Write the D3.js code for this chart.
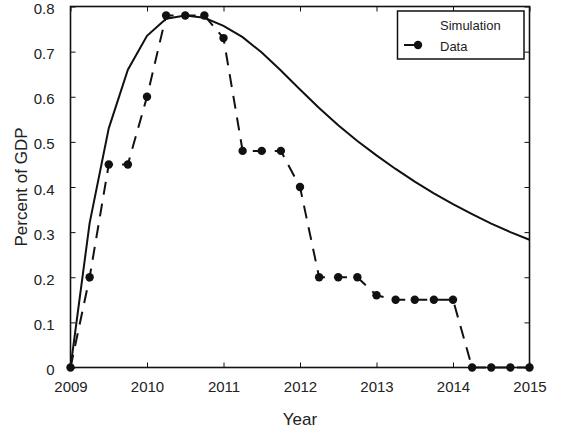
<!DOCTYPE html>
<html>
<head>
<meta charset="utf-8">
<script src="https://cdn.jsdelivr.net/npm/d3@7"></script>
<style>
  body { margin: 0; background: #fff; }
  svg { display: block; font-family: "Liberation Sans", Arial, sans-serif; }
  .tick-label { font-size: 15px; fill: #222; }
  .axis-label { font-size: 17px; fill: #222; }
  .legend-text { font-size: 13px; fill: #222; }
</style>
</head>
<body>
<div id="chart"></div>
<script>
const quarters = [
  2009, 2009.25, 2009.5, 2009.75,
  2010, 2010.25, 2010.5, 2010.75,
  2011, 2011.25, 2011.5, 2011.75,
  2012, 2012.25, 2012.5, 2012.75,
  2013, 2013.25, 2013.5, 2013.75,
  2014, 2014.25, 2014.5, 2014.75,
  2015,
];
const simulation = [
  0, 0.32, 0.53, 0.66,
  0.735, 0.773, 0.78, 0.775,
  0.757, 0.732, 0.698, 0.658,
  0.616, 0.575, 0.537, 0.502,
  0.47, 0.44, 0.412, 0.386,
  0.362, 0.34, 0.319, 0.3,
  0.283,
];
const observed = [
  0, 0.2, 0.45, 0.45,
  0.6, 0.78, 0.78, 0.78,
  0.73, 0.48, 0.48, 0.48,
  0.4, 0.2, 0.2, 0.2,
  0.16, 0.15, 0.15, 0.15,
  0.15, 0, 0, 0,
  0,
];
const xTicks = [2009, 2010, 2011, 2012, 2013, 2014, 2015];
const yTicks = [0, 0.1, 0.2, 0.3, 0.4, 0.5, 0.6, 0.7, 0.8];
const legendItems = ["Simulation", "Data"];

const margin = { top: 6.5, right: 32.5, bottom: 64.5, left: 70.5 };
const W = 562, H = 432;
const width = W - margin.left - margin.right;
const height = H - margin.top - margin.bottom;

const xScale = d3.scaleLinear().domain([2009, 2015]).range([0, width]);
const yScale = d3.scaleLinear().domain([0, 0.8]).range([height, 0]);

const svg = d3
  .select("#chart")
  .append("svg")
  .attr("width", W)
  .attr("height", H)
  .append("g")
  .attr("transform", "translate(" + margin.left + "," + margin.top + ")");

const tickLen = 5;

// bottom and top ticks, labels only at the bottom
const xAxis = svg
  .append("g")
  .attr("transform", "translate(0," + height + ")")
  .call(d3.axisBottom(xScale).tickValues(xTicks).tickFormat(d3.format("d")).tickSizeInner(-tickLen).tickSizeOuter(0).tickPadding(14));
xAxis.select(".domain").remove();
xAxis.selectAll("line").attr("stroke", "#111").attr("stroke-width", 1);
xAxis.selectAll("text").attr("class", "tick-label").attr("font-size", null).attr("font-family", null);

const xTop = svg
  .append("g")
  .call(d3.axisTop(xScale).tickValues(xTicks).tickSizeInner(-tickLen).tickSizeOuter(0).tickFormat(""));
xTop.select(".domain").remove();
xTop.selectAll("line").attr("stroke", "#111").attr("stroke-width", 1);

const yAxis = svg
  .append("g")
  .call(d3.axisLeft(yScale).tickValues(yTicks).tickFormat((d) => (d === 0 ? "0" : d3.format(".1f")(d))).tickSizeInner(-tickLen).tickSizeOuter(0).tickPadding(16));
yAxis.select(".domain").remove();
yAxis.selectAll("line").attr("stroke", "#111").attr("stroke-width", 1);
yAxis.selectAll("text").attr("class", "tick-label").attr("font-size", null).attr("font-family", null).attr("dy", "0.47em");

const yRight = svg
  .append("g")
  .attr("transform", "translate(" + width + ",0)")
  .call(d3.axisRight(yScale).tickValues(yTicks).tickSizeInner(-tickLen).tickSizeOuter(0).tickFormat(""));
yRight.select(".domain").remove();
yRight.selectAll("line").attr("stroke", "#111").attr("stroke-width", 1);

// frame
svg
  .append("rect")
  .attr("width", width)
  .attr("height", height)
  .attr("fill", "none")
  .attr("stroke", "#111")
  .attr("stroke-width", 1.6);

// axis titles
svg
  .append("text")
  .attr("class", "axis-label")
  .attr("x", width / 2)
  .attr("y", height + 57)
  .attr("text-anchor", "middle")
  .text("Year");
svg
  .append("text")
  .attr("class", "axis-label")
  .attr("transform", "translate(-44," + height / 2 + ") rotate(-90)")
  .attr("text-anchor", "middle")
  .text("Percent of GDP");

// simulation curve
const quarterLine = d3
  .line()
  .x((d, i) => xScale(quarters[i]))
  .y((d) => yScale(d));
svg
  .append("path")
  .datum(simulation)
  .attr("d", quarterLine)
  .attr("fill", "none")
  .attr("stroke", "#111")
  .attr("stroke-width", 2);

// observed data, dashed with markers
svg
  .append("path")
  .datum(observed)
  .attr("d", quarterLine)
  .attr("fill", "none")
  .attr("stroke", "#111")
  .attr("stroke-width", 2)
  .attr("stroke-dasharray", "13,9");
svg
  .append("g")
  .selectAll("circle")
  .data(observed)
  .enter()
  .append("circle")
  .attr("cx", (d, i) => xScale(quarters[i]))
  .attr("cy", (d) => yScale(d))
  .attr("r", 4.2)
  .attr("fill", "#111");

// legend
const legend = svg.append("g").attr("transform", "translate(" + (397.5 - margin.left) + "," + (11 - margin.top) + ")");
legend
  .append("rect")
  .attr("width", 126.5)
  .attr("height", 48)
  .attr("fill", "#fff")
  .attr("stroke", "#111")
  .attr("stroke-width", 1.5);
legend
  .selectAll("text")
  .data(legendItems)
  .enter()
  .append("text")
  .attr("class", "legend-text")
  .attr("x", 42.5)
  .attr("y", (d, i) => 18.5 + i * 21)
  .text((d) => d);
legend
  .append("line")
  .attr("x1", 6.5)
  .attr("x2", 20.5)
  .attr("y1", 34)
  .attr("y2", 34)
  .attr("stroke", "#111")
  .attr("stroke-width", 2);
legend
  .append("circle")
  .attr("cx", 20.5)
  .attr("cy", 34)
  .attr("r", 4.2)
  .attr("fill", "#111");
</script>
</body>
</html>
